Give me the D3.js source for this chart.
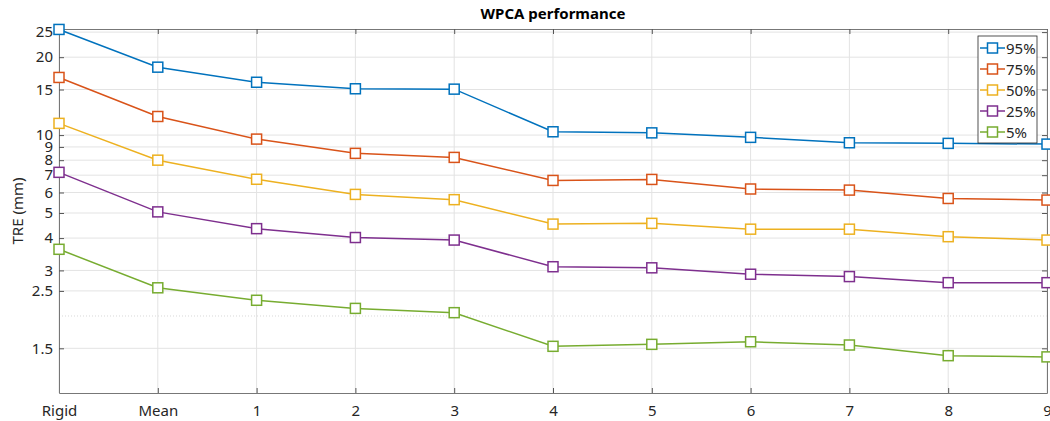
<!DOCTYPE html>
<html>
<head>
<meta charset="utf-8">
<script src="https://cdn.jsdelivr.net/npm/d3@7"></script>
<style>
  body { margin: 0; background: #fff; }
  svg { font-family: 'Noto Sans', sans-serif; }
</style>
</head>
<body>
<svg width="1050" height="421"></svg>
<script>
// data
var categories = ['Rigid', 'Mean', '1', '2', '3', '4', '5', '6', '7', '8', '9'];
var seriesNames = ['95%', '75%', '50%', '25%', '5%'];
var p95 = [25.6, 18.3, 16.0, 15.1, 15.05, 10.3, 10.2, 9.8, 9.34, 9.29, 9.23];
var p75 = [16.7, 11.8, 9.65, 8.5, 8.2, 6.68, 6.74, 6.19, 6.13, 5.69, 5.61];
var p50 = [11.1, 8.0, 6.75, 5.9, 5.63, 4.53, 4.56, 4.33, 4.33, 4.05, 3.93];
var p25 = [7.18, 5.05, 4.35, 4.02, 3.93, 3.10, 3.07, 2.90, 2.84, 2.69, 2.69];
var p5 = [3.62, 2.57, 2.30, 2.14, 2.06, 1.527, 1.554, 1.59, 1.545, 1.405, 1.39];
var yTicks = [1.5, 2.5, 3, 4, 5, 6, 7, 8, 9, 10, 15, 20, 25];
var yMinor = [2];
var colors = ['#0072BD', '#D95319', '#EDB120', '#7E2F8E', '#77AC30'];

var series = [p95, p75, p50, p25, p5];

var pLeft = 59, pRight = 1047, pTop = 29, pBottom = 393;
var svg = d3.select('svg');

var x = d3.scalePoint()
  .domain(categories)
  .range([pLeft, pRight]);

var y = d3.scaleLog()
  .domain([1.008, 25.7])
  .range([pBottom, pTop]);

// grid
svg.append('g')
  .selectAll('line')
  .data(yTicks)
  .enter().append('line')
  .attr('x1', pLeft).attr('x2', pRight)
  .attr('y1', function (d) { return y(d); })
  .attr('y2', function (d) { return y(d); })
  .attr('stroke', '#e3e3e3')
  .attr('stroke-width', 1);

svg.append('g')
  .selectAll('line')
  .data(yMinor)
  .enter().append('line')
  .attr('x1', pLeft).attr('x2', pRight)
  .attr('y1', function (d) { return y(d); })
  .attr('y2', function (d) { return y(d); })
  .attr('stroke', '#d8d8d8')
  .attr('stroke-dasharray', '1,2')
  .attr('stroke-width', 1);

svg.append('g')
  .selectAll('line')
  .data(categories)
  .enter().append('line')
  .attr('x1', function (d) { return x(d); })
  .attr('x2', function (d) { return x(d); })
  .attr('y1', pTop).attr('y2', pBottom)
  .attr('stroke', '#e3e3e3')
  .attr('stroke-width', 1);

// axes
var axisColor = '#262626';

var xAxis = svg.append('g')
  .attr('transform', 'translate(0,' + pBottom + ')')
  .call(d3.axisBottom(x).tickSizeInner(-5).tickSizeOuter(0).tickPadding(12));

var xTop = svg.append('g')
  .attr('transform', 'translate(0,' + pTop + ')')
  .call(d3.axisTop(x).tickSizeInner(-5).tickSizeOuter(0).tickFormat(''));

var yAxis = svg.append('g')
  .attr('transform', 'translate(' + pLeft + ',0)')
  .call(d3.axisLeft(y).tickValues(yTicks).tickFormat(d3.format('')).tickSizeInner(-5).tickSizeOuter(0).tickPadding(6));

var yRight = svg.append('g')
  .attr('transform', 'translate(' + pRight + ',0)')
  .call(d3.axisRight(y).tickValues(yTicks).tickFormat('').tickSizeInner(-5).tickSizeOuter(0));

[xAxis, xTop, yAxis, yRight].forEach(function (g) {
  g.select('.domain').attr('stroke', '#777').attr('stroke-width', 1);
  g.selectAll('.tick line').attr('stroke', '#555');
  g.selectAll('.tick text')
    .attr('fill', axisColor)
    .attr('font-size', 15)
    .attr('font-family', "'Noto Sans', sans-serif");
});

// lines and markers
var line = d3.line()
  .x(function (d, i) { return x(categories[i]); })
  .y(function (d) { return y(d); });

series.forEach(function (vals, s) {
  svg.append('path')
    .datum(vals)
    .attr('fill', 'none')
    .attr('stroke', colors[s])
    .attr('stroke-width', 1.5)
    .attr('d', line);

  svg.append('g')
    .selectAll('rect')
    .data(vals)
    .enter().append('rect')
    .attr('x', function (d, i) { return x(categories[i]) - 5; })
    .attr('y', function (d) { return y(d) - 5; })
    .attr('width', 10)
    .attr('height', 10)
    .attr('fill', '#fff')
    .attr('stroke', colors[s])
    .attr('stroke-width', 1.5);
});

// title
svg.append('text')
  .text('WPCA performance')
  .attr('x', (pLeft + pRight) / 2)
  .attr('y', 19)
  .attr('text-anchor', 'middle')
  .attr('font-size', 15)
  .attr('font-weight', 'bold')
  .attr('fill', '#000');

// y label
svg.append('text')
  .text('TRE (mm)')
  .attr('transform', 'translate(23,' + (pTop + pBottom) / 2 + ') rotate(-90)')
  .attr('text-anchor', 'middle')
  .attr('font-size', 15)
  .attr('fill', axisColor);

// legend
var legend = svg.append('g');

legend.append('rect')
  .attr('x', 978)
  .attr('y', 36)
  .attr('width', 59)
  .attr('height', 107)
  .attr('fill', '#fff')
  .attr('stroke', '#262626')
  .attr('stroke-width', 0.8);

seriesNames.forEach(function (name, s) {
  var ly = 48 + s * 21;
  legend.append('line')
    .attr('x1', 980).attr('x2', 1005)
    .attr('y1', ly).attr('y2', ly)
    .attr('stroke', colors[s])
    .attr('stroke-width', 1.5);
  legend.append('rect')
    .attr('x', 987.5).attr('y', ly - 5)
    .attr('width', 10).attr('height', 10)
    .attr('fill', '#fff')
    .attr('stroke', colors[s])
    .attr('stroke-width', 1.5);
  legend.append('text')
    .text(name)
    .attr('x', 1006)
    .attr('y', ly + 5.5)
    .attr('font-size', 15)
    .attr('fill', axisColor);
});
</script>
</body>
</html>
